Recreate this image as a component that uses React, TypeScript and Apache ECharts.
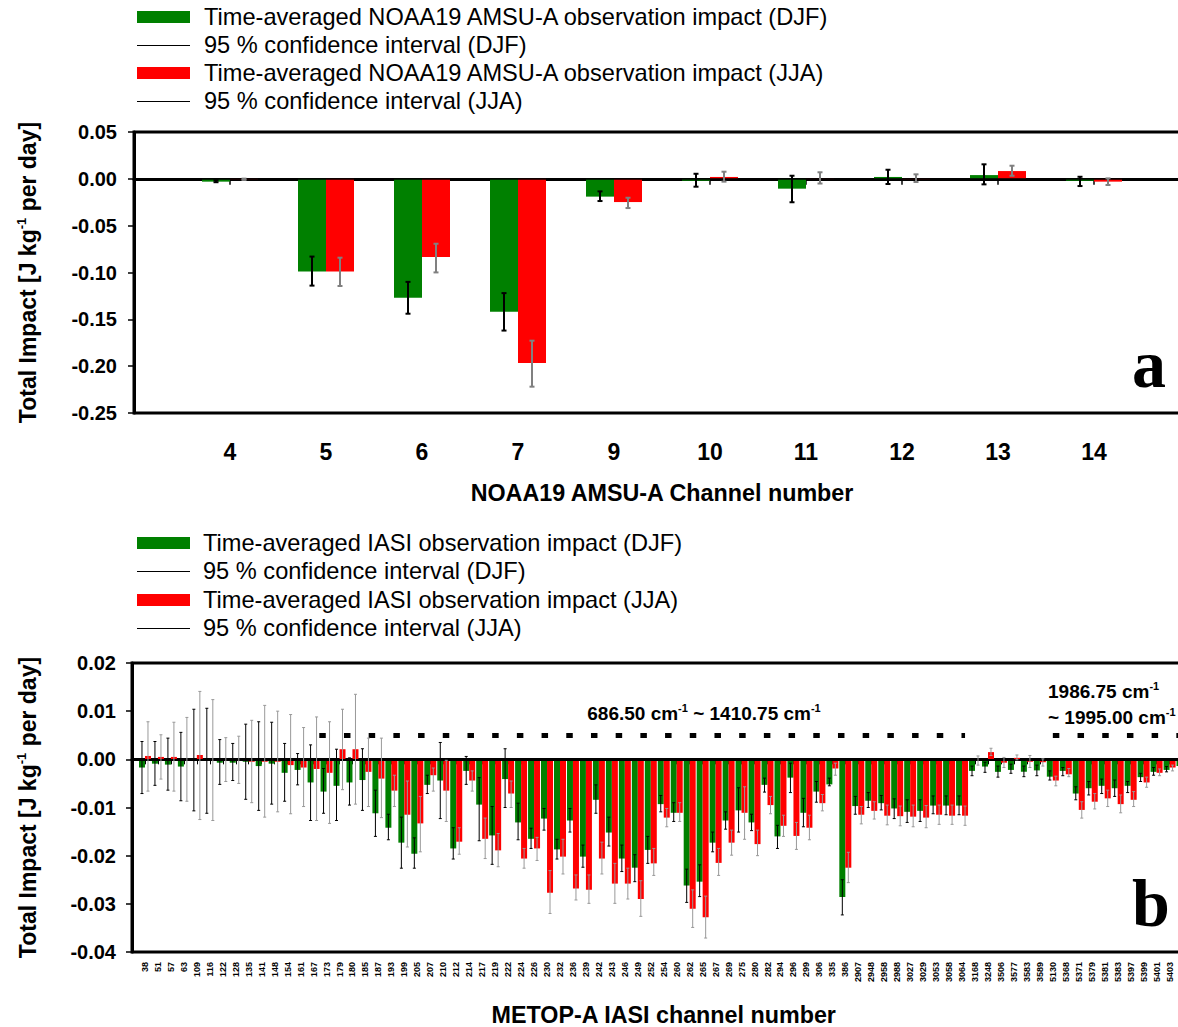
import React, { useEffect, useRef } from 'react';
import * as echarts from 'echarts';

// ---------- Panel a: NOAA19 AMSU-A ----------
const channelsA = ['4', '5', '6', '7', '9', '10', '11', '12', '13', '14'];
const djfA = [-0.003, -0.099, -0.127, -0.142, -0.019, -0.002, -0.0105, 0.002, 0.004, -0.002];
const djfLowA = [-0.0036, -0.114, -0.144, -0.162, -0.0237, -0.0084, -0.025, -0.0055, -0.0059, -0.0077];
const djfHighA = [-0.0015, -0.083, -0.11, -0.122, -0.0134, 0.0054, 0.0033, 0.0097, 0.0155, 0.0022];
const jjaA = [-0.0005, -0.099, -0.0835, -0.1966, -0.0248, 0.002, -0.0003, -0.0005, 0.0083, -0.003];
const jjaLowA = [-0.0012, -0.1144, -0.0999, -0.2219, -0.0312, -0.003, -0.005, -0.0034, 0.0033, -0.0066];
const jjaHighA = [0.0002, -0.0842, -0.0693, -0.1728, -0.0202, 0.0076, 0.007, 0.0048, 0.014, 0.0005];
const yAxisA = { min: -0.25, max: 0.05, interval: 0.05 };

// ---------- Panel b: METOP-A IASI ----------
const channelsB = ['38', '51', '57', '63', '109', '116', '122', '128', '135', '141', '148', '154', '161', '167', '173', '179', '180', '185', '187', '193', '199', '205', '207', '210', '212', '214', '217', '219', '222', '224', '226', '230', '232', '236', '239', '242', '243', '246', '249', '252', '254', '260', '262', '265', '267', '269', '275', '280', '282', '294', '296', '299', '306', '335', '386', '2907', '2948', '2958', '2988', '3027', '3029', '3053', '3058', '3064', '3168', '3248', '3506', '3577', '3583', '3589', '5130', '5368', '5371', '5379', '5381', '5383', '5397', '5399', '5401', '5403', '5405'];
const djfB = [-0.0017, -0.0009, -0.0011, -0.0015, -0.0001, -0.0001, -0.0007, -0.0007, -0.0005, -0.0014, -0.0009, -0.0028, -0.0022, -0.0048, -0.0067, -0.0055, -0.0048, -0.0043, -0.0112, -0.0142, -0.0173, -0.0196, -0.0053, -0.0044, -0.0185, -0.0024, -0.0094, -0.0158, -0.0041, -0.0131, -0.0165, -0.0123, -0.0187, -0.0127, -0.0202, -0.0084, -0.0152, -0.0206, -0.0225, -0.0188, -0.0093, -0.0111, -0.0262, -0.0254, -0.0173, -0.0127, -0.0106, -0.0131, -0.0053, -0.016, -0.0038, -0.0111, -0.0067, -0.0052, -0.0286, -0.0097, -0.0086, -0.0091, -0.0102, -0.0109, -0.0107, -0.0096, -0.0096, -0.0096, -0.0024, -0.0015, -0.0026, -0.0022, -0.0026, -0.0023, -0.0036, -0.0024, -0.0071, -0.006, -0.0055, -0.006, -0.0055, -0.0037, -0.0026, -0.0022, -0.0014];
const djfLowB = [-0.0071, -0.0054, -0.0064, -0.0086, -0.0107, -0.0112, -0.0052, -0.0044, -0.0083, -0.0106, -0.0093, -0.0087, -0.0053, -0.0127, -0.0112, -0.0127, -0.0095, -0.0106, -0.016, -0.0167, -0.0226, -0.0226, -0.0071, -0.0123, -0.0207, -0.0052, -0.0169, -0.0218, -0.01, -0.0167, -0.0185, -0.0147, -0.0207, -0.0151, -0.0224, -0.0112, -0.018, -0.0233, -0.0254, -0.0216, -0.0109, -0.0129, -0.0297, -0.0285, -0.0192, -0.0145, -0.0151, -0.0148, -0.0068, -0.0185, -0.0069, -0.014, -0.0089, -0.0055, -0.0323, -0.0114, -0.01, -0.0105, -0.0123, -0.0131, -0.0129, -0.0113, -0.0115, -0.0115, -0.0034, -0.0027, -0.0037, -0.0029, -0.0036, -0.0034, -0.0043, -0.0034, -0.0084, -0.0074, -0.0071, -0.0077, -0.0069, -0.0046, -0.0033, -0.0026, -0.002];
const djfHighB = [0.0037, 0.0037, 0.0044, 0.0056, 0.0104, 0.0106, 0.0041, 0.0033, 0.0073, 0.0078, 0.0077, 0.0033, 0.0012, 0.003, -0.0019, 0.0021, 0.0003, 0.0022, -0.0064, -0.0114, -0.012, -0.0163, -0.0033, 0.0035, -0.0142, 0.0006, -0.0038, -0.0098, 0.0022, -0.0091, -0.0143, -0.0102, -0.0166, -0.0102, -0.0178, -0.0053, -0.012, -0.0178, -0.0198, -0.016, -0.0075, -0.009, -0.0228, -0.0219, -0.0151, -0.0109, -0.0059, -0.0114, -0.0039, -0.0137, -0.0008, -0.0081, -0.0046, -0.0039, -0.025, -0.0077, -0.0069, -0.0075, -0.0082, -0.0084, -0.0084, -0.0076, -0.0076, -0.0076, -0.0014, -0.0006, -0.0014, -0.001, -0.0014, -0.0012, -0.0024, -0.0017, -0.0057, -0.0046, -0.0041, -0.0043, -0.0046, -0.0029, -0.0017, -0.0015, -0.0008];
const jjaB = [0.0007, 0.0005, 0.0005, 0.0, 0.0009, 0.0, 0.0, 0.0, -0.0005, -0.0005, -0.0005, -0.0012, -0.0017, -0.002, -0.0028, 0.0021, 0.0021, -0.0026, -0.004, -0.0065, -0.0115, -0.0133, -0.0033, -0.0065, -0.0171, -0.0044, -0.0165, -0.0189, -0.0071, -0.0206, -0.0185, -0.0277, -0.0202, -0.0268, -0.0271, -0.0206, -0.0258, -0.0258, -0.029, -0.0216, -0.0121, -0.0111, -0.031, -0.0328, -0.0215, -0.0173, -0.0111, -0.0176, -0.0095, -0.0138, -0.0159, -0.0142, -0.0091, -0.0019, -0.0225, -0.0115, -0.0107, -0.0117, -0.0118, -0.0119, -0.0121, -0.0115, -0.0117, -0.0117, -0.0002, 0.0015, -0.0007, 0.0003, -0.0005, -0.0006, -0.0044, -0.0031, -0.0105, -0.0088, -0.0081, -0.0093, -0.0084, -0.0048, -0.0028, -0.0017, -0.001];
const jjaLowB = [-0.0066, -0.0041, -0.0066, -0.0087, -0.0125, -0.0127, -0.0046, -0.005, -0.009, -0.012, -0.0109, -0.0113, -0.0098, -0.0127, -0.0133, -0.0063, -0.0093, -0.0098, -0.0121, -0.0098, -0.0182, -0.0192, -0.0066, -0.0129, -0.0197, -0.0066, -0.0206, -0.0223, -0.01, -0.0226, -0.021, -0.032, -0.0238, -0.0292, -0.0299, -0.0238, -0.0299, -0.029, -0.0326, -0.0241, -0.014, -0.0129, -0.0349, -0.0371, -0.0241, -0.0199, -0.0166, -0.02, -0.0113, -0.016, -0.0187, -0.0167, -0.0107, -0.0033, -0.0256, -0.0134, -0.0124, -0.0136, -0.0138, -0.014, -0.0142, -0.0135, -0.0135, -0.0137, -0.0012, 0.0008, -0.0017, -0.0001, -0.0017, -0.0014, -0.0055, -0.0036, -0.0122, -0.0103, -0.0098, -0.0111, -0.0098, -0.0058, -0.0034, -0.0024, -0.0016];
const jjaHighB = [0.0078, 0.0051, 0.0077, 0.0087, 0.0141, 0.0124, 0.0045, 0.0048, 0.0081, 0.0112, 0.01, 0.0093, 0.0066, 0.0088, 0.0078, 0.0104, 0.0135, 0.0044, 0.0044, -0.0033, -0.0045, -0.0077, -0.0018, -0.0002, -0.0142, -0.0024, -0.0122, -0.0154, -0.0045, -0.0185, -0.0162, -0.0231, -0.0166, -0.024, -0.024, -0.0172, -0.0216, -0.0226, -0.0252, -0.0185, -0.0102, -0.009, -0.0271, -0.0284, -0.0185, -0.0147, -0.0057, -0.0147, -0.0077, -0.0116, -0.0131, -0.0116, -0.0073, -0.0008, -0.0193, -0.0098, -0.0088, -0.0095, -0.0097, -0.0095, -0.0096, -0.0095, -0.0095, -0.0097, 0.0007, 0.0023, 0.0004, 0.0009, 0.0008, 0.0001, -0.0035, -0.0019, -0.0088, -0.0071, -0.0064, -0.0074, -0.0067, -0.0037, -0.002, -0.0012, -0.0004];
const yAxisB = { min: -0.04, max: 0.02, interval: 0.01 };

// wavenumber range markers (channel bounds) and their value level
const rangeMarkers = [['167', '3064'], ['5130', '']];
const rangeLevel = 0.005;

const legendLabelsA = [
  'Time-averaged NOAA19 AMSU-A observation impact (DJF)',
  '95 % confidence interval (DJF)',
  'Time-averaged NOAA19 AMSU-A observation impact (JJA)',
  '95 % confidence interval (JJA)',
];
const legendLabelsB = [
  'Time-averaged IASI observation impact (DJF)',
  '95 % confidence interval (DJF)',
  'Time-averaged IASI observation impact (JJA)',
  '95 % confidence interval (JJA)',
];

const FONT = '"Liberation Sans", Arial, Helvetica, sans-serif';
const SERIF = '"Liberation Serif", "Times New Roman", serif';
const GREEN = '#008000';
const RED = '#ff0000';

const fmt = (v: number) => (Math.abs(v) < 1e-9 ? '0.00' : v.toFixed(2));

function errorBars(offset: number, color: string, cap: number, lw: number) {
  return (_params: any, api: any) => {
    const idx = api.value(0);
    const lo = api.coord([idx, api.value(1)]);
    const hi = api.coord([idx, api.value(2)]);
    const x = lo[0] + offset;
    const style = { stroke: color, lineWidth: lw };
    return {
      type: 'group',
      children: [
        { type: 'line', shape: { x1: x, y1: lo[1], x2: x, y2: hi[1] }, style },
        { type: 'line', shape: { x1: x - cap, y1: lo[1], x2: x + cap, y2: lo[1] }, style },
        { type: 'line', shape: { x1: x - cap, y1: hi[1], x2: x + cap, y2: hi[1] }, style },
      ],
    };
  };
}

const titleRich = {
  n: { fontSize: 23, fontWeight: 'bold', fontFamily: FONT, color: '#000', lineHeight: 26 },
  s: { fontSize: 13, fontWeight: 'bold', fontFamily: FONT, color: '#000', verticalAlign: 'top' },
};
const yName = '{n|Total Impact [J kg}{s|-1}{n| per day]}';

function legend(yc: number[], labels: string[], textX: number) {
  const els: any[] = [];
  labels.forEach((lab, i) => {
    const y = yc[i];
    if (i % 2 === 0) {
      els.push({ type: 'rect', shape: { x: 137, y: y - 6, width: 53, height: 12 }, style: { fill: i === 0 ? GREEN : RED } });
    } else {
      els.push({ type: 'line', shape: { x1: 137, y1: y + 0.5, x2: 190, y2: y + 0.5 }, style: { stroke: '#000', lineWidth: 1 } });
    }
    els.push({
      type: 'text', x: textX, y,
      style: { text: lab, fontSize: 23.6, fontFamily: FONT, fill: '#000', align: 'left', verticalAlign: 'middle' },
    });
  });
  return els;
}

const annRich = {
  n: { fontSize: 19, fontWeight: 'bold', fontFamily: FONT, color: '#000', lineHeight: 22 },
  s: { fontSize: 11, fontWeight: 'bold', fontFamily: FONT, color: '#000', verticalAlign: 'top' },
};

function buildOption() {
  const catsA = ['', ...channelsA, ' '];
  const catsB = ['', ...channelsB, ' '];
  const pairA = (vals: number[]) => vals.map((v, i) => [i + 1, v]);
  const errA = (lo: number[], hi: number[]) => lo.map((l, i) => [i + 1, l, hi[i]]);
  const idxB = (ch: string) => (ch === '' ? catsB.length - 1 : channelsB.indexOf(ch) + 1);

  const yAxisCommon = (r: any, gridIndex: number, gap: number, margin: number) => ({
    type: 'value', gridIndex, min: r.min, max: r.max, interval: r.interval,
    axisLine: { show: true, lineStyle: { color: '#000', width: 3 } },
    axisTick: { show: true, inside: false, length: 6, lineStyle: { color: '#000', width: 1.5 } },
    axisLabel: { color: '#000', fontFamily: FONT, fontWeight: 'bold', fontSize: 20, margin, formatter: fmt },
    splitLine: { show: false },
    name: yName, nameLocation: 'middle', nameRotate: 90, nameGap: gap,
    nameTextStyle: { rich: titleRich },
  });

  const zeroLine = (w: number) => ({
    silent: true, symbol: ['none', 'none'], label: { show: false },
    lineStyle: { color: '#000', width: w, type: 'solid' },
    emphasis: { disabled: true },
    data: [{ yAxis: 0 }],
  });

  const rangeLine = (pair: string[], dashOffset: number) => ({
    silent: true, symbol: ['none', 'none'], label: { show: false },
    lineStyle: { color: '#000', width: 5, type: [6.5, 18.2], dashOffset, cap: 'butt' },
    emphasis: { disabled: true },
    data: [[{ coord: [idxB(pair[0]), rangeLevel] }, { coord: [idxB(pair[1]), rangeLevel] }]],
  });

  return {
    animation: false,
    backgroundColor: '#fff',
    grid: [
      { left: 134, top: 132, width: 1056, height: 281, show: true, borderColor: '#000', borderWidth: 3, outerBoundsMode: 'none', containLabel: false },
      { left: 132, top: 663, width: 1063.5, height: 289, show: true, borderColor: '#000', borderWidth: 3, outerBoundsMode: 'none', containLabel: false },
    ],
    xAxis: [
      {
        type: 'category', gridIndex: 0, data: catsA, boundaryGap: false,
        axisLine: { lineStyle: { color: '#000', width: 3 } },
        axisTick: { length: 6, interval: 0, lineStyle: { color: '#000', width: 1.5 } },
        axisLabel: { color: '#000', fontFamily: FONT, fontWeight: 'bold', fontSize: 23, margin: 27, interval: 0 },
        splitLine: { show: false },
        name: 'NOAA19 AMSU-A Channel number', nameLocation: 'middle', nameGap: 68,
        nameTextStyle: { color: '#000', fontFamily: FONT, fontWeight: 'bold', fontSize: 23.3 },
      },
      {
        type: 'category', gridIndex: 1, data: catsB, boundaryGap: false,
        axisLine: { lineStyle: { color: '#000', width: 3 } },
        axisTick: { length: 5, interval: 0, lineStyle: { color: '#000', width: 1 } },
        axisLabel: { color: '#000', fontFamily: FONT, fontWeight: 'bold', fontSize: 9, margin: 10, interval: 0, rotate: 90 },
        splitLine: { show: false },
        name: 'METOP-A IASI channel number', nameLocation: 'middle', nameGap: 51,
        nameTextStyle: { color: '#000', fontFamily: FONT, fontWeight: 'bold', fontSize: 23.3 },
      },
    ],
    yAxis: [yAxisCommon(yAxisA, 0, 93, 17), yAxisCommon(yAxisB, 1, 91, 16)],
    series: [
      {
        type: 'bar', name: 'DJF a', xAxisIndex: 0, yAxisIndex: 0, data: pairA(djfA),
        barWidth: 28, barGap: '0%', itemStyle: { color: GREEN }, markLine: zeroLine(1.5),
      },
      {
        type: 'bar', name: 'JJA a', xAxisIndex: 0, yAxisIndex: 0, data: pairA(jjaA),
        barWidth: 28, barGap: '0%', itemStyle: { color: RED },
      },
      {
        type: 'custom', name: 'CI DJF a', xAxisIndex: 0, yAxisIndex: 0, z: 5,
        data: errA(djfLowA, djfHighA), encode: { x: 0, y: [1, 2] },
        renderItem: errorBars(-14, '#000', 2.5, 2),
      },
      {
        type: 'custom', name: 'CI JJA a', xAxisIndex: 0, yAxisIndex: 0, z: 5,
        data: errA(jjaLowA, jjaHighA), encode: { x: 0, y: [1, 2] },
        renderItem: errorBars(14, '#808080', 2.5, 2),
      },
      {
        type: 'bar', name: 'DJF b', xAxisIndex: 1, yAxisIndex: 1, data: pairA(djfB),
        barWidth: 6, barGap: '0%', itemStyle: { color: GREEN }, markLine: zeroLine(2),
      },
      {
        type: 'bar', name: 'JJA b', xAxisIndex: 1, yAxisIndex: 1, data: pairA(jjaB),
        barWidth: 6, barGap: '0%', itemStyle: { color: RED }, markLine: rangeLine(rangeMarkers[0], 21.7),
      },
      {
        type: 'custom', name: 'CI DJF b', xAxisIndex: 1, yAxisIndex: 1, z: 5,
        data: errA(djfLowB, djfHighB), encode: { x: 0, y: [1, 2] },
        renderItem: errorBars(-3, '#000', 1.5, 1),
        markLine: rangeLine(rangeMarkers[1], 0),
      },
      {
        type: 'custom', name: 'CI JJA b', xAxisIndex: 1, yAxisIndex: 1, z: 5,
        data: errA(jjaLowB, jjaHighB), encode: { x: 0, y: [1, 2] },
        renderItem: errorBars(3, '#999999', 1.5, 1),
      },
    ],
    graphic: {
      elements: [
        ...legend([17, 45, 73, 101], legendLabelsA, 204),
        ...legend([543, 571, 600, 628], legendLabelsB, 203),
        {
          type: 'text', x: 704, y: 713,
          style: { text: '{n|686.50 cm}{s|-1}{n| ~ 1410.75 cm}{s|-1}', rich: annRich, align: 'center', verticalAlign: 'middle' },
        },
        {
          type: 'text', x: 1048, y: 691,
          style: { text: '{n|1986.75 cm}{s|-1}', rich: annRich, align: 'left', verticalAlign: 'middle' },
        },
        {
          type: 'text', x: 1048, y: 717,
          style: { text: '{n|~ 1995.00 cm}{s|-1}', rich: annRich, align: 'left', verticalAlign: 'middle' },
        },
        {
          type: 'text', x: 1132, y: 364,
          style: { text: 'a', fontFamily: SERIF, fontWeight: 'bold', fontSize: 68, fill: '#000', align: 'left', verticalAlign: 'middle' },
        },
        {
          type: 'text', x: 1132, y: 903,
          style: { text: 'b', fontFamily: SERIF, fontWeight: 'bold', fontSize: 68, fill: '#000', align: 'left', verticalAlign: 'middle' },
        },
      ],
    },
  };
}

export default function App() {
  const ref = useRef<HTMLDivElement>(null);
  useEffect(() => {
    const chart = echarts.init(ref.current as HTMLDivElement, null, { renderer: 'svg' });
    chart.setOption(buildOption() as any);
    return () => chart.dispose();
  }, []);
  return (
    <div
      ref={ref}
      style={{ position: 'absolute', left: 0, top: 0, width: 1178, height: 1027, background: '#fff' }}
    />
  );
}
